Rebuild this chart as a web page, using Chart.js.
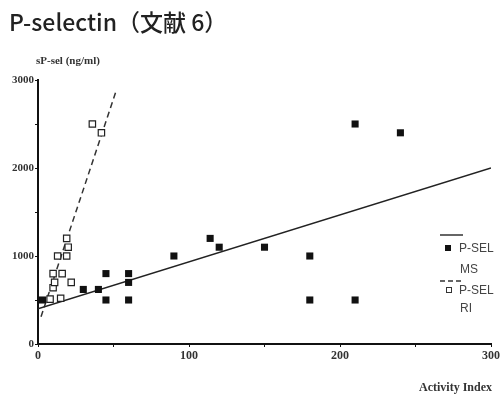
<!DOCTYPE html>
<html>
<head>
<meta charset="utf-8">
<script src="https://cdn.jsdelivr.net/npm/chart.js@4"></script>
<style>
  html, body { margin: 0; padding: 0; background: #fff; }
  #wrap { width: 502px; height: 396px; }
</style>
</head>
<body>
<div id="wrap"><canvas id="selChart" width="502" height="396"></canvas></div>
<script>
// P-SEL MS (filled squares)
const msX = [3, 30, 40, 45, 45, 60, 60, 60, 90, 114, 120, 150, 180, 180, 210, 210, 240];
const msY = [500, 620, 620, 800, 500, 800, 700, 500, 1000, 1200, 1100, 1100, 1000, 500, 2500, 500, 2400];
// P-SEL RI (open squares)
const riX = [8, 15, 10, 11, 22, 10, 16, 13, 19, 20, 19, 36, 42];
const riY = [510, 520, 640, 700, 700, 800, 800, 1000, 1000, 1100, 1200, 2500, 2400];
// regression lines
const msFitX = [0, 300];
const msFitY = [400, 2000];
const riFitX = [2, 52];
const riFitY = [310, 2890];

const yTickLabels = [0, 1000, 2000, 3000];
const xTickLabels = [0, 100, 200, 300];
const titleText = 'P-selectin（文献 6）';
const yAxisTitle = 'sP-sel (ng/ml)';
const xAxisTitle = 'Activity Index';
const legendNames = [['P-SEL', 'MS'], ['P-SEL', 'RI']];

function toPoints(xs, ys) {
    return xs.map((x, i) => ({ x: x, y: ys[i] }));
}

const serif = '"Liberation Serif", "DejaVu Serif", serif';

// Tiêu đề, tên trục và chú thích vẽ tay
const textPlugin = {
    id: 'textPlugin',
    afterDraw(chart) {
        const ctx = chart.ctx;
        ctx.save();
        ctx.fillStyle = '#222';
        ctx.font = '500 23px "Noto Sans CJK JP", "Noto Sans", sans-serif';
        ctx.textBaseline = 'middle';
        ctx.textAlign = 'left';
        ctx.fillText(titleText, 9, 22);

        ctx.fillStyle = '#333';
        ctx.font = 'bold 11px ' + serif;
        ctx.fillText(yAxisTitle, 36, 61);
        ctx.font = 'bold 12px ' + serif;
        ctx.textAlign = 'right';
        ctx.fillText(xAxisTitle, 492, 388);

        // chú thích
        ctx.textAlign = 'left';
        ctx.font = '12px "Liberation Sans", Arial, sans-serif';
        ctx.strokeStyle = '#333';
        ctx.lineWidth = 1.5;
        ctx.beginPath();
        ctx.moveTo(440, 235);
        ctx.lineTo(463, 235);
        ctx.stroke();
        ctx.fillStyle = '#111';
        ctx.fillRect(445, 245, 6, 6);
        ctx.fillStyle = '#444';
        ctx.fillText(legendNames[0][0], 459, 249);
        ctx.fillText(legendNames[0][1], 460, 270);

        ctx.setLineDash([5, 3]);
        ctx.beginPath();
        ctx.moveTo(440, 281);
        ctx.lineTo(464, 281);
        ctx.stroke();
        ctx.setLineDash([]);
        ctx.lineWidth = 1;
        ctx.fillStyle = '#fff';
        ctx.fillRect(446.5, 287.5, 5, 5);
        ctx.strokeRect(446.5, 287.5, 5, 5);
        ctx.fillStyle = '#444';
        ctx.fillText(legendNames[1][0], 459, 291);
        ctx.fillText(legendNames[1][1], 460, 309);
        ctx.restore();
    }
};

const ctx = document.getElementById('selChart').getContext('2d');
new Chart(ctx, {
    type: 'scatter',
    data: {
        datasets: [
            {
                label: 'P-SEL MS',
                data: toPoints(msX, msY),
                pointStyle: 'rect',
                pointRadius: 5,
                backgroundColor: '#111',
                borderColor: '#111',
                borderWidth: 0
            },
            {
                label: 'P-SEL RI',
                data: toPoints(riX, riY),
                pointStyle: 'rect',
                pointRadius: 4.5,
                backgroundColor: '#fff',
                borderColor: '#222',
                borderWidth: 1.2
            },
            {
                label: 'MS fit',
                data: toPoints(msFitX, msFitY),
                showLine: true,
                pointRadius: 0,
                borderColor: '#222',
                borderWidth: 1.5,
                order: 5
            },
            {
                label: 'RI fit',
                data: toPoints(riFitX, riFitY),
                showLine: true,
                pointRadius: 0,
                borderColor: '#333',
                borderWidth: 1.5,
                borderDash: [6, 4],
                order: 5
            }
        ]
    },
    options: {
        responsive: false,
        animation: false,
        layout: { padding: { top: 80, right: 11, left: 0, bottom: 0 } },
        plugins: {
            legend: { display: false },
            tooltip: { enabled: false }
        },
        scales: {
            x: {
                type: 'linear',
                min: 0,
                max: 300,
                border: { color: '#111', width: 2 },
                grid: { drawOnChartArea: false, color: '#111', tickLength: 3 },
                ticks: {
                    stepSize: 50,
                    padding: 2,
                    maxRotation: 0,
                    color: '#333',
                    font: { family: serif, size: 12, weight: 'bold' },
                    callback: v => xTickLabels.includes(v) ? v : ''
                },
                afterFit: s => { s.height = 52; }
            },
            y: {
                type: 'linear',
                min: 0,
                max: 3000,
                border: { color: '#111', width: 2 },
                grid: { drawOnChartArea: false, color: '#111', tickLength: 3 },
                ticks: {
                    stepSize: 500,
                    padding: 1,
                    color: '#333',
                    font: { family: serif, size: 11, weight: 'bold' },
                    callback: v => yTickLabels.includes(v) ? v : ''
                },
                afterFit: s => { s.width = 38; }
            }
        }
    },
    plugins: [textPlugin]
});
</script>
</body>
</html>
